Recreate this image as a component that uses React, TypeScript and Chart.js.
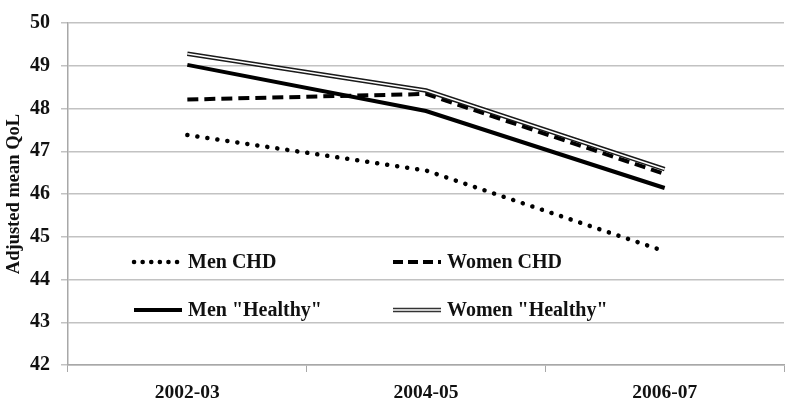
import React, { useEffect, useRef } from "react";
import { Chart, registerables } from "chart.js";

Chart.register(...registerables);

const categories = ["2002-03", "2004-05", "2006-07"];
const menCHD = [47.38, 46.55, 44.66];
const womenCHD = [48.21, 48.34, 46.47];
const menHealthy = [49.02, 47.94, 46.14];
const womenHealthy = [49.28, 48.42, 46.58];
const yTicks = [42, 43, 44, 45, 46, 47, 48, 49, 50];

const FONT = '"Liberation Serif", "Times New Roman", serif';
const TEXT = "#111";

type LegendItem = {
  label: string;
  kind: "dot" | "dash" | "solid" | "double";
  col: number;
  row: number;
};

const legendItems: LegendItem[] = [
  { label: "Men CHD", kind: "dot", col: 0, row: 0 },
  { label: "Women CHD", kind: "dash", col: 1, row: 0 },
  { label: 'Men "Healthy"', kind: "solid", col: 0, row: 1 },
  { label: 'Women "Healthy"', kind: "double", col: 1, row: 1 },
];

const legendPlugin = {
  id: "inlineLegend",
  afterDatasetsDraw(chart: any) {
    const ctx = chart.ctx as CanvasRenderingContext2D;
    const colX = [[134, 182, 188], [393, 441, 447]];
    const rowY = [262, 310];
    ctx.save();
    for (const it of legendItems) {
      const [x0, x1, tx] = colX[it.col];
      const y = rowY[it.row];
      ctx.beginPath();
      ctx.moveTo(x0, y);
      ctx.lineTo(x1, y);
      ctx.strokeStyle = "#000";
      if (it.kind === "dot") {
        ctx.lineWidth = 4.5;
        ctx.lineCap = "round";
        ctx.setLineDash([0.1, 8.5]);
        ctx.stroke();
      } else if (it.kind === "dash") {
        ctx.lineWidth = 4;
        ctx.lineCap = "butt";
        ctx.setLineDash([10, 5]);
        ctx.stroke();
      } else if (it.kind === "solid") {
        ctx.lineWidth = 4;
        ctx.lineCap = "butt";
        ctx.setLineDash([]);
        ctx.stroke();
      } else {
        ctx.lineWidth = 4.5;
        ctx.lineCap = "butt";
        ctx.setLineDash([]);
        ctx.strokeStyle = "#333";
        ctx.stroke();
        ctx.beginPath();
        ctx.moveTo(x0, y);
        ctx.lineTo(x1, y);
        ctx.lineWidth = 1.5;
        ctx.strokeStyle = "#fff";
        ctx.stroke();
      }
      ctx.setLineDash([]);
      ctx.fillStyle = TEXT;
      ctx.font = `bold 20px ${FONT}`;
      ctx.textAlign = "left";
      ctx.textBaseline = "middle";
      ctx.fillText(it.label, tx, y + 1);
    }
    ctx.restore();
  },
};

export default function App() {
  const ref = useRef<HTMLCanvasElement | null>(null);

  useEffect(() => {
    if (!ref.current) return;
    const chart = new Chart(ref.current, {
      type: "line",
      data: {
        labels: categories,
        datasets: [
          {
            label: "Men CHD",
            data: menCHD,
            borderColor: "#000",
            borderWidth: 4.5,
            borderDash: [0.1, 10],
            borderCapStyle: "round",
            pointRadius: 0,
            tension: 0,
            order: 4,
          },
          {
            label: "Women CHD",
            data: womenCHD,
            borderColor: "#000",
            borderWidth: 4,
            borderDash: [11, 6],
            borderCapStyle: "butt",
            pointRadius: 0,
            tension: 0,
            order: 3,
          },
          {
            label: 'Men "Healthy"',
            data: menHealthy,
            borderColor: "#000",
            borderWidth: 4,
            pointRadius: 0,
            tension: 0,
            order: 5,
          },
          {
            label: 'Women "Healthy"',
            data: womenHealthy,
            borderColor: "#1a1a1a",
            borderWidth: 4.5,
            pointRadius: 0,
            tension: 0,
            order: 1,
          },
          {
            label: 'Women "Healthy" inner',
            data: womenHealthy,
            borderColor: "#fff",
            borderWidth: 1.5,
            pointRadius: 0,
            tension: 0,
            order: 0,
          },
        ],
      },
      options: {
        responsive: false,
        animation: false,
        events: [],
        layout: { padding: { top: 13, right: 16, left: 0, bottom: 0 } },
        plugins: {
          legend: { display: false },
          tooltip: { enabled: false },
          title: { display: false },
        },
        scales: {
          x: {
            offset: true,
            grid: {
              display: true,
              offset: true,
              drawOnChartArea: false,
              drawTicks: true,
              tickLength: 7,
              color: "#a8a8a8",
            },
            border: { display: true, color: "#a8a8a8", width: 1.5 },
            ticks: {
              color: TEXT,
              font: { family: FONT, size: 19.5, weight: "bold" },
              padding: 9,
              maxRotation: 0,
            },
            afterFit: (s: any) => {
              s.height = 40;
            },
          },
          y: {
            min: 42,
            max: 50,
            afterBuildTicks: (s: any) => {
              s.ticks = yTicks.map((v) => ({ value: v }));
            },
            grid: {
              display: true,
              drawTicks: true,
              tickLength: 7,
              color: "#c2c2c2",
              lineWidth: 1.5,
            },
            border: { display: true, color: "#a8a8a8", width: 1.5 },
            ticks: {
              color: TEXT,
              font: { family: FONT, size: 20, weight: "bold" },
              padding: 11,
            },
            title: {
              display: true,
              text: "Adjusted mean QoL",
              color: TEXT,
              font: { family: FONT, size: 18.5, weight: "bold" },
              padding: { top: 3, bottom: 0 },
            },
            afterFit: (s: any) => {
              s.width = 68;
            },
          },
        },
      },
      plugins: [legendPlugin],
    } as any);
    return () => chart.destroy();
  }, []);

  return (
    <div style={{ position: "absolute", left: 0, top: 0, width: 800, height: 405, background: "#fff" }}>
      <canvas ref={ref} width={800} height={405} style={{ display: "block" }} />
    </div>
  );
}
